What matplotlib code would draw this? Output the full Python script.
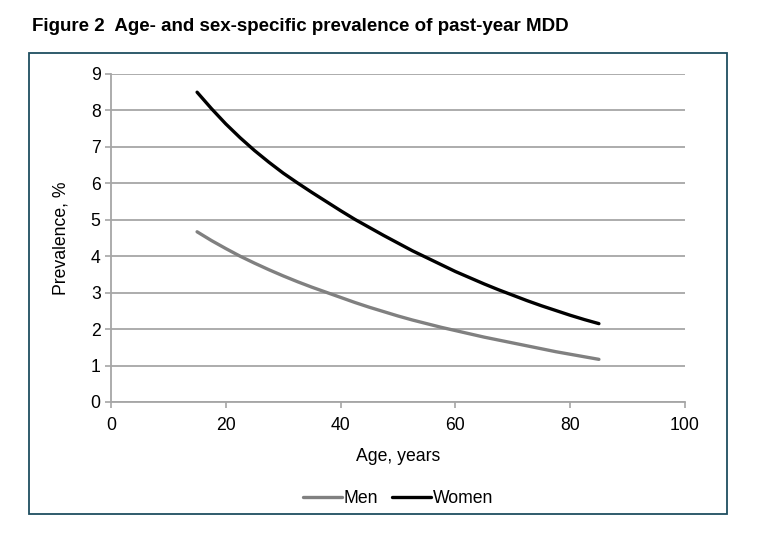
import matplotlib
matplotlib.use("Agg")
import matplotlib.pyplot as plt
from matplotlib.patches import Rectangle

plt.rcParams['font.family'] = ['Liberation Sans', 'DejaVu Sans']

# values, every 2.5 years
age = [15, 17.5, 20, 22.5, 25, 27.5, 30, 32.5, 35, 37.5, 40, 42.5, 45, 47.5, 50,
       52.5, 55, 57.5, 60, 62.5, 65, 67.5, 70, 72.5, 75, 77.5, 80, 82.5, 85]
men = [4.67, 4.43, 4.21, 4.00, 3.81, 3.63, 3.46, 3.30, 3.15, 3.01, 2.87, 2.73, 2.60, 2.48, 2.36,
       2.25, 2.15, 2.05, 1.96, 1.87, 1.78, 1.70, 1.62, 1.54, 1.46, 1.38, 1.31, 1.24, 1.17]
women = [8.50, 8.05, 7.63, 7.25, 6.90, 6.58, 6.28, 6.01, 5.75, 5.50, 5.25, 5.01, 4.79, 4.57, 4.36,
         4.15, 3.96, 3.77, 3.58, 3.41, 3.24, 3.08, 2.93, 2.78, 2.64, 2.51, 2.38, 2.26, 2.15]
xticks = [0, 20, 40, 60, 80, 100]
yticks = list(range(0, 10))

fig = plt.figure(figsize=(7.57, 5.36), dpi=100)
ax = fig.add_axes([0.1466, 0.25, 0.7583, 0.612])

grid_c = '#a6a6a6'
fs = 12.7
ax.plot(age, men, color='#808080', lw=2.4, label='Men', solid_capstyle='round')
ax.plot(age, women, color='black', lw=2.4, label='Women', solid_capstyle='round')

ax.set_xlim(0, 100)
ax.set_ylim(0, 9)
ax.set_xticks(xticks)
ax.set_yticks(yticks)
ax.yaxis.grid(True, color=grid_c, lw=1.3)
ax.set_axisbelow(True)
for s in ['top', 'right']:
    ax.spines[s].set_visible(False)
for s in ['left', 'bottom']:
    ax.spines[s].set_color(grid_c)
    ax.spines[s].set_linewidth(1.3)
ax.tick_params(colors=grid_c, labelcolor='black', labelsize=fs, length=4, width=1.2)
ax.tick_params(axis='x', pad=7)

ax.set_xlabel('Age, years', fontsize=fs, labelpad=10)
ax.set_ylabel('Prevalence, %', fontsize=fs, labelpad=15)

ax.legend(loc='upper center', bbox_to_anchor=(0.5, -0.22), ncol=2, frameon=False,
          fontsize=fs, handlelength=2.2, handletextpad=0.1, columnspacing=0.8)

fig.text(0.042, 0.951, 'Figure 2  Age- and sex-specific prevalence of past-year MDD',
         fontsize=13.5, fontweight='bold', va='center', ha='left')

fig.patches.append(Rectangle((0.0383, 0.041), 0.922, 0.86, transform=fig.transFigure,
                             fill=False, edgecolor='#1f4e60', lw=1.3))

fig.savefig('out.png', dpi=100)
